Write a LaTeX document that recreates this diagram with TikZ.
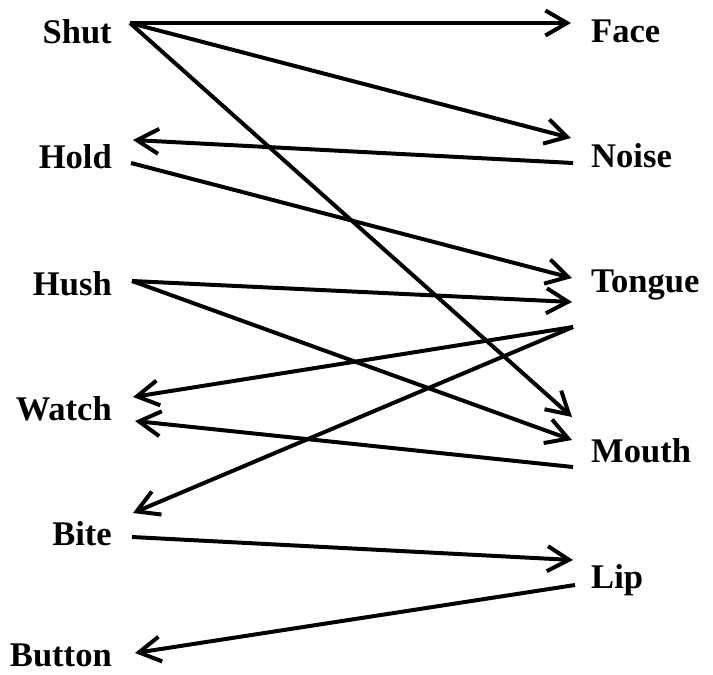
\documentclass[tikz,border=0pt]{standalone}
\usepackage{fontspec}
\setmainfont{Liberation Serif}
\usetikzlibrary{arrows.meta}

\begin{document}
\begin{tikzpicture}[
    x=0.03cm, y=-0.03cm,
    >={Straight Barb[length=6.5mm,width=7.5mm]},
    word/.style={
        inner sep=0pt,
        font=\fontsize{29.5}{32}\selectfont\bfseries
    },
    left word/.style={word, anchor=base east},
    right word/.style={word, anchor=base west},
    link/.style={->, line width=3.4pt}
]
\useasboundingbox (0,0) rectangle (713,674);

% Left column
\node[left word] (shut)   at (112,44)  {Shut};
\node[left word] (hold)   at (112,168) {Hold};
\node[left word] (hush)   at (112,295) {Hush};
\node[left word] (watch)  at (112,420) {Watch};
\node[left word] (bite)   at (112,545) {Bite};
\node[left word] (button) at (112,666) {Button};

% Right column
\node[right word] (face)   at (591,43)  {Face};
\node[right word] (noise)  at (591,167) {Noise};
\node[right word] (tongue) at (591,292) {Tongue};
\node[right word] (mouth)  at (591,462) {Mouth};
\node[right word] (lip)    at (591,588) {Lip};

% Links
\draw[link] ([shift={(18,-21)}]shut.base east) -- ([shift={(-20,-20)}]face.base west);
\draw[link] ([shift={(18,-21)}]shut.base east) -- ([shift={(-20,-29)}]noise.base west);
\draw[link] ([shift={(18,-21)}]shut.base east) -- ([shift={(-19,-45)}]mouth.base west);
\draw[link] ([shift={(-18,-4)}]noise.base west) -- ([shift={(21,-28)}]hold.base east);
\draw[link] ([shift={(19,-5)}]hold.base east) -- ([shift={(-19,-14)}]tongue.base west);
\draw[link] ([shift={(20,-14)}]hush.base east) -- ([shift={(-19,10)}]tongue.base west);
\draw[link] ([shift={(20,-14)}]hush.base east) -- ([shift={(-19,-22)}]mouth.base west);
\draw[link] ([shift={(-18,35)}]tongue.base west) -- ([shift={(21,-23)}]watch.base east);
\draw[link] ([shift={(-18,35)}]tongue.base west) -- ([shift={(21,-32)}]bite.base east);
\draw[link] ([shift={(-18,5)}]mouth.base west) -- ([shift={(23,1)}]watch.base east);
\draw[link] ([shift={(20,-8)}]bite.base east) -- ([shift={(-18,-28)}]lip.base west);
\draw[link] ([shift={(-16,-3)}]lip.base west) -- ([shift={(23,-13)}]button.base east);

\end{tikzpicture}
\end{document}
